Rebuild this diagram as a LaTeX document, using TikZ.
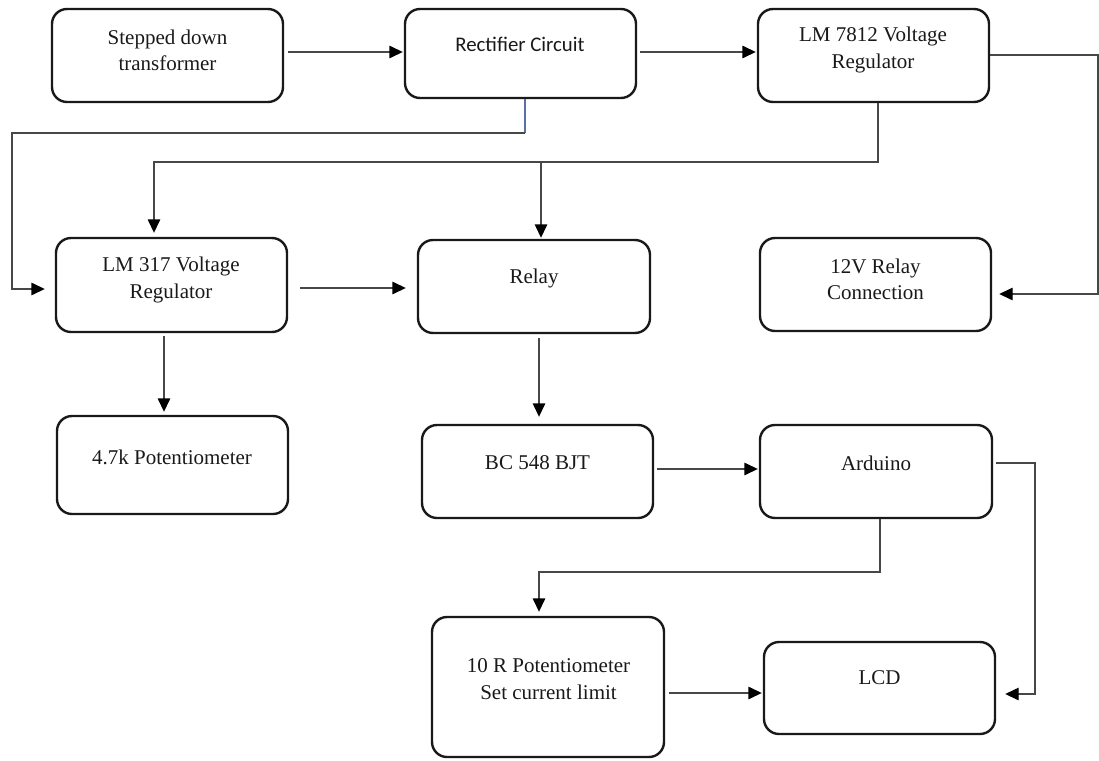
\documentclass[tikz,border=0pt]{standalone}
\usepackage{fontspec}
\setmainfont{Liberation Serif}
\newfontfamily\calib{Carlito}
\usetikzlibrary{arrows.meta,calc}
\begin{document}
\begin{tikzpicture}[x=1pt,y=-1pt,
  box/.style={draw=black!90, line width=2.4pt, rounded corners=15pt, inner sep=0pt, minimum width=231pt},
  lbl/.style={font=\fontsize{21}{26.5}\selectfont, align=center, inner sep=0pt, text=black!90},
  conn/.style={draw=black!72, line width=1.4pt},
  arr/.style={conn, -{Triangle[length=13.5pt,width=12.5pt,fill=black,color=black]}}
]
\useasboundingbox (0,0) rectangle (1099,760);

% boxes
\node[box, minimum height=93pt] (trans) at (167.5,55.5) {};
\node[box, minimum height=89pt] (rect) at (520.5,53.5) {};
\node[box, minimum height=93pt] (lm7812) at (873.5,55.5) {};
\node[box, minimum height=94pt] (lm317) at (171.5,285) {};
\node[box, minimum height=93pt, minimum width=232pt] (relay) at (534,286.5) {};
\node[box, minimum height=93pt] (v12) at (875.5,284.5) {};
\node[box, minimum height=98pt] (pot47) at (172.5,465) {};
\node[box, minimum height=93pt] (bc548) at (537.5,471.5) {};
\node[box, minimum height=93pt, minimum width=232pt] (ard) at (876,471.5) {};
\node[box, minimum height=140pt, minimum width=232pt] (pot10) at (548,687) {};
\node[box, minimum height=92pt] (lcd) at (879.5,688) {};

% labels
\node[lbl] (trans-t) at (167.5,50.5) {Stepped down\\transformer};
\node[lbl, font=\calib\fontsize{20.8}{25}\selectfont] (rect-t) at (520,44) {Rectifier Circuit};
\node[lbl] (lm7812-t) at (873,50) {LM 7812 Voltage\\Regulator};
\node[lbl] (lm317-t) at (171,280) {LM 317 Voltage\\Regulator};
\node[lbl] (relay-t) at (534,278) {Relay};
\node[lbl] (v12-t) at (875.5,279.5) {12V Relay\\Connection};
\node[lbl] (pot47-t) at (172,457) {4.7k Potentiometer};
\node[lbl] (bc548-t) at (537.5,463) {BC 548 BJT};
\node[lbl] (ard-t) at (876,463) {Arduino};
\node[lbl] (pot10-t) at (548.5,679) {10 R Potentiometer\\Set current limit};
\node[lbl] (lcd-t) at (879.5,678) {LCD};

% coordinates for bends
\coordinate (redge1) at (1098,55);
\coordinate (redge2) at (1098,294);
\coordinate (lb1) at (525,133);
\coordinate (lb2) at (12,133);
\coordinate (lb3) at (12,289);
\coordinate (tb1) at (878,162);
\coordinate (tb2) at (154,162);
\coordinate (tb3) at (541,162);
\coordinate (ab1) at (880,572);
\coordinate (ab2) at (539,572);
\coordinate (rb1) at (1035,463);
\coordinate (rb2) at (1035,694);

% connectors
\draw[arr, shorten <=4pt, shorten >=1pt] (trans.east |- 0,52) -- (rect.west |- 0,52);
\draw[arr, shorten <=3pt, shorten >=1pt] (rect.east |- 0,52) -- (lm7812.west |- 0,52);
\draw[arr, shorten >=7pt] (lm7812.east |- redge1) -- (redge1) -- (redge2) -- (v12.east |- redge2);

\draw[draw={rgb,255:red,90;green,110;blue,170}, line width=1.1pt] (rect.south -| lb1) -- (lb1);
\draw[arr, shorten >=10pt] (lb1) -- (lb2) -- (lb3) -- (lm317.west |- lb3);

\draw[arr, shorten >=4pt] (lm7812.south -| tb1) -- (tb1) -- (tb2) -- (lm317.north -| tb2);
\draw[arr, shorten >=1pt] (tb3) -- (relay.north -| tb3);

\draw[arr, shorten <=12pt, shorten >=11pt] (lm317.east |- 0,288) -- (relay.west |- 0,288);
\draw[arr, shorten <=3pt, shorten >=3pt] (lm317.south -| 164,0) -- (pot47.north -| 164,0);
\draw[arr, shorten <=4pt, shorten >=7pt] (relay.south -| 539,0) -- (bc548.north -| 539,0);
\draw[arr, shorten <=3pt, shorten >=1pt] (bc548.east |- 0,469) -- (ard.west |- 0,469);

\draw[arr, shorten >=4pt] (ard.south -| ab1) -- (ab1) -- (ab2) -- (pot10.north -| ab2);
\draw[arr, shorten <=3pt, shorten >=9pt] (ard.east |- rb1) -- (rb1) -- (rb2) -- (lcd.east |- rb2);
\draw[arr, shorten <=4pt, shorten >=1pt] (pot10.east |- 0,693) -- (lcd.west |- 0,693);
\end{tikzpicture}
\end{document}
